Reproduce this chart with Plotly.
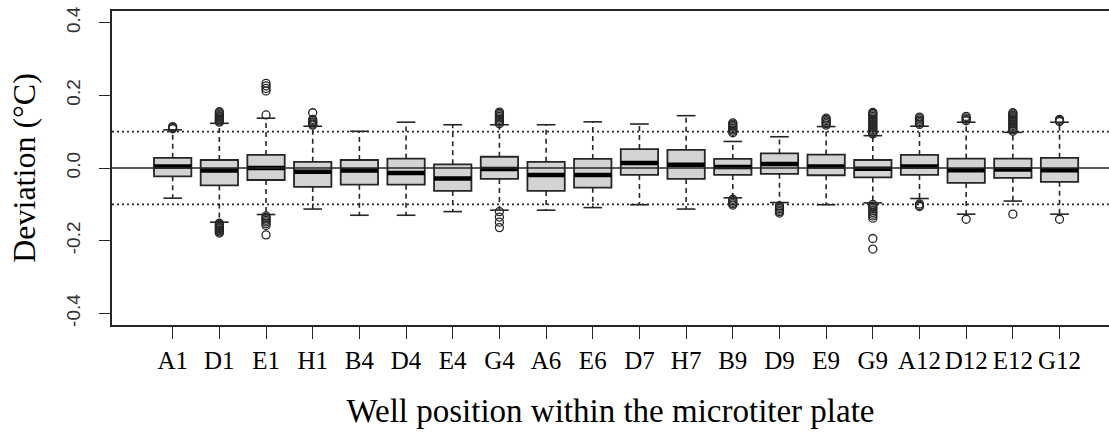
import plotly.graph_objects as go

# Well positions on the plate
wells = ["A1", "D1", "E1", "H1", "B4", "D4", "E4", "G4", "A6", "E6",
         "D7", "H7", "B9", "D9", "E9", "G9", "A12", "D12", "E12", "G12"]

# Box statistics of the temperature deviation (°C)
q3 = [0.028, 0.022, 0.036, 0.017, 0.022, 0.026, 0.010, 0.031, 0.017, 0.025,
      0.052, 0.050, 0.025, 0.040, 0.037, 0.022, 0.036, 0.026, 0.026, 0.028]
medians = [0.004, -0.007, 0.000, -0.010, -0.007, -0.014, -0.029, -0.003, -0.019, -0.019,
           0.014, 0.009, 0.003, 0.011, 0.004, -0.002, 0.004, -0.006, -0.004, -0.006]
q1 = [-0.023, -0.048, -0.033, -0.052, -0.046, -0.046, -0.063, -0.030, -0.063, -0.054,
      -0.019, -0.030, -0.019, -0.016, -0.020, -0.026, -0.019, -0.041, -0.027, -0.038]
whisker_hi = [0.105, 0.123, 0.137, 0.115, 0.101, 0.126, 0.119, 0.119, 0.119, 0.127,
              0.121, 0.144, 0.073, 0.086, 0.114, 0.089, 0.115, 0.126, 0.098, 0.126]
whisker_lo = [-0.083, -0.149, -0.128, -0.113, -0.130, -0.130, -0.120, -0.116, -0.116, -0.109,
              -0.101, -0.113, -0.082, -0.095, -0.101, -0.096, -0.084, -0.127, -0.091, -0.127]

# Outlying measurements per well
outliers_hi = [
    [0.108, 0.111, 0.114],
    [0.126, 0.129, 0.132, 0.135, 0.138, 0.141, 0.144, 0.148, 0.152, 0.155],
    [0.146, 0.212, 0.219, 0.226, 0.233],
    [0.118, 0.121, 0.124, 0.127, 0.131, 0.134, 0.152],
    [], [], [],
    [0.122, 0.126, 0.130, 0.134, 0.138, 0.142, 0.146, 0.150, 0.154],
    [], [], [], [],
    [0.097, 0.101, 0.105, 0.109, 0.113, 0.117, 0.121, 0.124],
    [],
    [0.118, 0.122, 0.126, 0.130, 0.134, 0.137],
    [0.094, 0.098, 0.102, 0.106, 0.110, 0.114, 0.118, 0.122, 0.126, 0.130,
     0.134, 0.138, 0.142, 0.146, 0.150, 0.153],
    [0.120, 0.124, 0.128, 0.132, 0.136, 0.140],
    [0.130, 0.134, 0.138, 0.142],
    [0.101, 0.105, 0.109, 0.113, 0.117, 0.121, 0.125, 0.129, 0.133, 0.137,
     0.141, 0.145, 0.149, 0.152],
    [0.128, 0.131, 0.134],
]
outliers_lo = [
    [],
    [-0.152, -0.155, -0.158, -0.161, -0.164, -0.167, -0.170, -0.173, -0.176, -0.179],
    [-0.132, -0.136, -0.140, -0.144, -0.148, -0.153, -0.158, -0.184],
    [], [], [], [],
    [-0.120, -0.135, -0.149, -0.164],
    [], [], [], [],
    [-0.086, -0.090, -0.094, -0.098, -0.102],
    [-0.104, -0.108, -0.112, -0.116, -0.120, -0.124],
    [],
    [-0.100, -0.104, -0.108, -0.112, -0.117, -0.122, -0.127, -0.132, -0.138, -0.194, -0.223],
    [-0.099, -0.103, -0.106],
    [-0.141],
    [-0.127],
    [-0.141],
]

# Tolerance band and reference level
band_levels = [-0.1, 0.1]
ref_level = 0.0

y_ticks = [-0.4, -0.2, 0.0, 0.2, 0.4]
y_ticktext = ["-0.4", "-0.2", "0.0", "0.2", "0.4"]

positions = list(range(1, len(wells) + 1))
box_w = 0.8
cap_w = 0.4
ink = "#262626"

fig = go.Figure()

# dashed whiskers
wx, wy = [], []
for p, a, b, lo, hi in zip(positions, q1, q3, whisker_lo, whisker_hi):
    wx += [p, p, None, p, p, None]
    wy += [b, hi, None, a, lo, None]
fig.add_trace(go.Scatter(x=wx, y=wy, mode="lines",
                         line=dict(color=ink, width=1.6, dash="5px,4px"),
                         hoverinfo="skip"))

# whisker staples
cx, cy = [], []
for p, lo, hi in zip(positions, whisker_lo, whisker_hi):
    cx += [p - cap_w / 2, p + cap_w / 2, None, p - cap_w / 2, p + cap_w / 2, None]
    cy += [hi, hi, None, lo, lo, None]
fig.add_trace(go.Scatter(x=cx, y=cy, mode="lines",
                         line=dict(color=ink, width=1.6), hoverinfo="skip"))

# boxes
fig.add_trace(go.Box(x=positions, q1=q1, median=medians, q3=q3,
                     lowerfence=q1, upperfence=q3,
                     width=box_w, whiskerwidth=0,
                     fillcolor="#d3d3d3",
                     line=dict(color=ink, width=1.8),
                     boxpoints=False))

# heavy median bars
mx, my = [], []
for p, m in zip(positions, medians):
    mx += [p - box_w / 2, p + box_w / 2, None]
    my += [m, m, None]
fig.add_trace(go.Scatter(x=mx, y=my, mode="lines",
                         line=dict(color="black", width=4.5), hoverinfo="skip"))

# outliers
ox, oy = [], []
for p, hi_pts, lo_pts in zip(positions, outliers_hi, outliers_lo):
    for v in hi_pts + lo_pts:
        ox.append(p)
        oy.append(v)
fig.add_trace(go.Scatter(x=ox, y=oy, mode="markers",
                         marker=dict(symbol="circle-open", size=8,
                                     color=ink, line=dict(width=1.3)),
                         hoverinfo="skip"))

fig.add_hline(y=ref_level, line=dict(color=ink, width=1.4), layer="above")
for lvl in band_levels:
    fig.add_hline(y=lvl, line=dict(color=ink, width=1.6, dash="2px,3px"), layer="above")

fig.update_layout(
    width=1109, height=439,
    margin=dict(l=112, r=0, t=11, b=114),
    paper_bgcolor="white", plot_bgcolor="white",
    showlegend=False,
    xaxis=dict(
        range=[-0.3, 21.06],
        tickmode="array", tickvals=positions, ticktext=wells,
        ticks="outside", ticklen=12, tickwidth=1.4, tickcolor=ink,
        showline=True, linecolor=ink, linewidth=1.6, mirror=True,
        showgrid=False, zeroline=False,
        tickfont=dict(family="Liberation Serif", size=25, color="black"),
        title=dict(text="Well position within the microtiter plate",
                   font=dict(family="Liberation Serif", size=33, color="black"),
                   standoff=26),
    ),
    yaxis=dict(
        range=[-0.432, 0.432],
        tickmode="array", tickvals=y_ticks, ticktext=y_ticktext,
        tickangle=-90,
        ticks="outside", ticklen=11, tickwidth=1.4, tickcolor=ink,
        ticklabelstandoff=12,
        showline=True, linecolor=ink, linewidth=1.6, mirror=False,
        showgrid=False, zeroline=False,
        tickfont=dict(family="Liberation Sans", size=19, color="#333333"),
        title=dict(text="Deviation (°C)",
                   font=dict(family="Liberation Serif", size=32, color="black"),
                   standoff=17),
    ),
)

fig.write_html("out.html")
